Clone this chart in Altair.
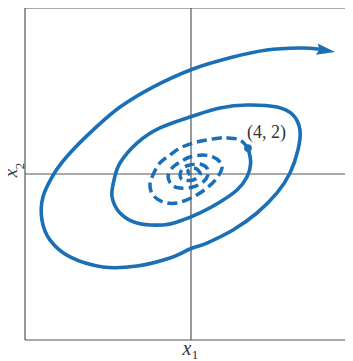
import altair as alt
import pandas as pd

# Solid trajectory (forward in time) starting at (4, 2), spiralling outward
solid_x = [4.00, 4.19, 3.93, 3.23, 2.04, 0.63, -0.77, -1.96, -3.79, -4.98,
           -5.54, -5.40, -4.98, -3.79, -2.18, 0.14, 2.04, 3.93, 6.04, 7.16,
           7.65, 7.51, 6.95, 6.04, 4.63, 2.95, 1.12, -0.07, -1.47, -3.79,
           -6.18, -8.49, -9.89, -10.46, -10.39, -9.54, -8.49, -6.88, -4.98, -2.67,
           0.14, 2.95, 5.33, 7.65, 8.91]
solid_y = [2.00, 0.85, -0.23, -1.23, -2.15, -3.00, -3.62, -3.92, -3.77, -3.00,
           -1.77, -0.46, 0.85, 2.38, 3.54, 4.46, 5.08, 5.31, 5.15, 4.54,
           3.38, 1.85, 0.08, -1.46, -3.00, -4.31, -5.31, -5.77, -6.46, -7.08,
           -7.15, -6.38, -5.08, -3.54, -1.77, 0.15, 1.62, 3.38, 5.15, 6.69,
           8.08, 9.00, 9.54, 9.69, 9.62]

# Dashed trajectory (backward in time) from (4, 2) spiralling into the origin
dashed_x = [4.00, 3.44, 2.60, 2.04, 1.12, 0.14, -0.77, -1.47, -2.18, -2.67,
            -2.88, -2.67, -1.96, -0.98, 0.14, 1.12, 1.82, 2.18, 2.04, 1.54,
            0.84, -0.07, -0.77, -1.33, -1.61, -1.33, -0.77, 0.14, 0.84, 1.19,
            1.12, 0.63, -0.07, -0.56, -0.77, -0.56, 0.14, 0.63, 0.49, 0.14,
            -0.21, -0.07]
dashed_y = [2.00, 2.62, 2.77, 2.77, 2.62, 2.38, 2.00, 1.46, 0.85, -0.08,
            -0.85, -1.62, -2.15, -2.23, -1.77, -1.08, -0.31, 0.46, 0.92, 1.31,
            1.46, 1.31, 0.92, 0.46, -0.23, -0.85, -1.08, -1.00, -0.62, -0.08,
            0.46, 0.77, 0.69, 0.46, -0.08, -0.46, -0.46, -0.08, 0.31, 0.46,
            0.23, -0.08]

point_x = [4]
point_y = [2]
point_label = ["(4, 2)"]

arrow_x = [9.47]
arrow_y = [9.50]

XMIN, XMAX = -11.65, 10.81
YMIN, YMAX = -12.77, 12.77

BLUE = "#1a6fb6"
GRAY = "#555555"

xs = alt.Scale(domain=[XMIN, XMAX], nice=False, zero=False)
ys = alt.Scale(domain=[YMIN, YMAX], nice=False, zero=False)


def X(f="x"):
    return alt.X(f"{f}:Q", scale=xs, axis=None)


def Y(f="y"):
    return alt.Y(f"{f}:Q", scale=ys, axis=None)


solid_df = pd.DataFrame({"x": solid_x, "y": solid_y, "i": range(len(solid_x))})
dashed_df = pd.DataFrame({"x": dashed_x, "y": dashed_y, "i": range(len(dashed_x))})
point_df = pd.DataFrame({"x": point_x, "y": point_y, "label": point_label})
arrow_df = pd.DataFrame({"x": arrow_x, "y": arrow_y})

rules_df = pd.DataFrame({
    "x": [XMIN, XMIN, XMIN, 0, XMIN],
    "x2": [XMIN, XMAX, XMAX, 0, XMAX],
    "y": [YMIN, YMAX, YMIN, YMIN, 0],
    "y2": [YMAX, YMAX, YMIN, YMAX, 0],
})

rules = alt.Chart(rules_df).mark_rule(color=GRAY, strokeWidth=1.2).encode(
    x=X(), x2="x2:Q", y=Y(), y2="y2:Q"
)

solid = alt.Chart(solid_df).mark_line(
    interpolate="cardinal", color=BLUE, strokeWidth=3.6, strokeCap="round"
).encode(x=X(), y=Y(), order="i:Q")

dashed = alt.Chart(dashed_df).mark_line(
    interpolate="cardinal", color=BLUE, strokeWidth=3.5, strokeDash=[10, 5]
).encode(x=X(), y=Y(), order="i:Q")

dot = alt.Chart(point_df).mark_point(
    shape="circle", filled=True, size=60, color=BLUE, opacity=1
).encode(x=X(), y=Y())

arrow = alt.Chart(arrow_df).mark_point(
    shape="M1,0L-1,-0.62L-0.72,0L-1,0.62Z", filled=True, size=340,
    angle=9, color=BLUE, opacity=1, strokeWidth=0
).encode(x=X(), y=Y())

label_df = pd.DataFrame({"x": [5.3], "y": [3.15], "label": point_label})
label = alt.Chart(label_df).mark_text(
    font="Liberation Serif", fontSize=18, color="#333333", baseline="middle", align="center"
).encode(x=X(), y=Y(), text="label:N")

axis_names = ["x", "x"]
axis_subs = ["1", "2"]

x1_main = alt.Chart(pd.DataFrame({"x": [-0.28], "y": [-13.92], "t": [axis_names[0]]})).mark_text(
    font="Liberation Serif", fontStyle="italic", fontSize=20, color="#333333",
    baseline="alphabetic", align="center"
).encode(x=X(), y=Y(), text="t:N")
x1_sub = alt.Chart(pd.DataFrame({"x": [0.28], "y": [-13.92], "t": [axis_subs[0]]})).mark_text(
    font="Liberation Serif", fontSize=13, color="#333333",
    baseline="middle", align="center"
).encode(x=X(), y=Y(), text="t:N")

x2_main = alt.Chart(pd.DataFrame({"x": [-12.2], "y": [0.08], "t": [axis_names[1]]})).mark_text(
    font="Liberation Serif", fontStyle="italic", fontSize=19, color="#333333",
    baseline="alphabetic", align="center", angle=270
).encode(x=X(), y=Y(), text="t:N")
x2_sub = alt.Chart(pd.DataFrame({"x": [-12.02], "y": [0.62], "t": [axis_subs[1]]})).mark_text(
    font="Liberation Serif", fontSize=13, color="#333333",
    baseline="middle", align="center", angle=270
).encode(x=X(), y=Y(), text="t:N")

chart = alt.layer(
    rules, solid, dashed, dot, arrow, label, x1_main, x1_sub, x2_main, x2_sub
).properties(
    width=320, height=332,
    padding={"left": 17, "top": 0, "right": 0, "bottom": 21},
    autosize=alt.AutoSizeParams(type="none"),
).configure_view(stroke=None)

chart.save("out.html", embed_options={"renderer": "svg", "actions": False})
